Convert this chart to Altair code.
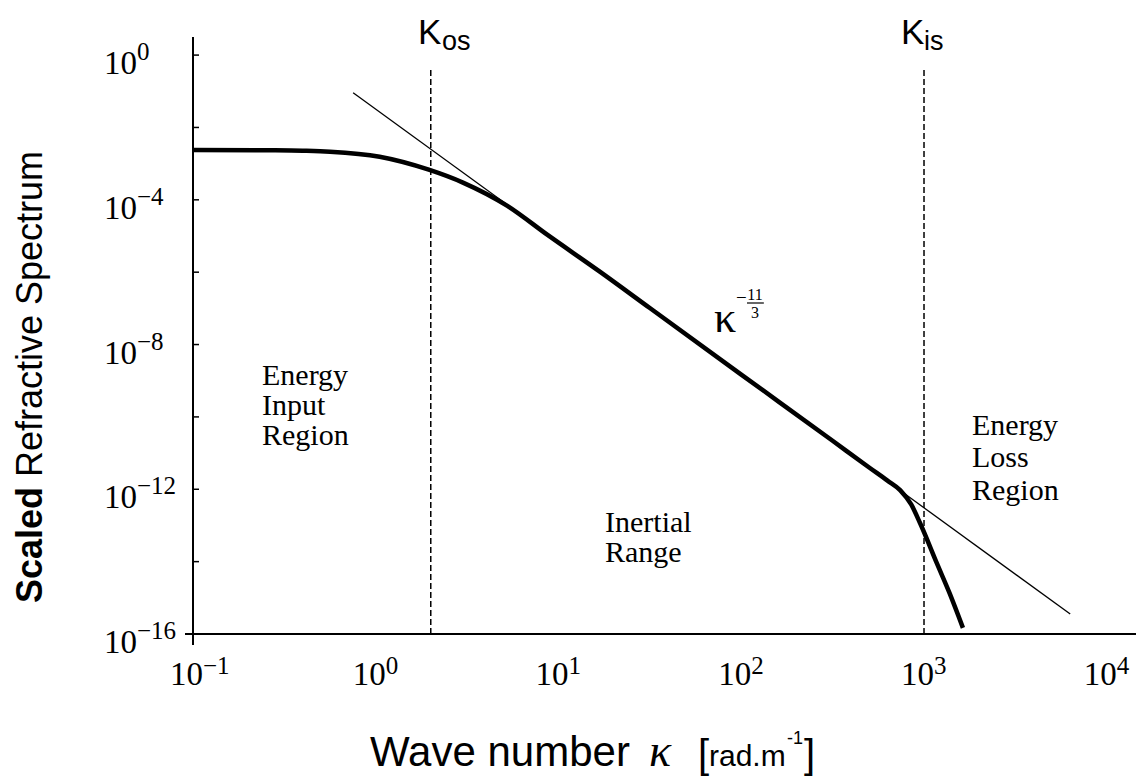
import altair as alt
import pandas as pd

# ---- data ----
# thick curve: scaled refractive spectrum
kappa = [0.1, 0.251, 0.398, 0.562, 1.05, 1.95, 3.02, 5.25, 8.71, 16.9, 31.6,
         100, 316, 501, 631, 740, 851, 951, 1175, 1380, 1633]
spectrum = [2.40e-3, 2.34e-3, 2.27e-3, 2.14e-3, 1.55e-3, 6.8e-4, 2.95e-4,
            6.8e-5, 1.07e-5, 1.02e-6, 1.02e-7, 1.48e-9, 2.19e-11, 4.0e-12, 1.74e-12,
            9.5e-13, 3.8e-13, 1.17e-13, 9.1e-15, 1.35e-15, 1.48e-16]
# thin kappa^(-11/3) reference line (end points)
kappa_pl = [0.752, 6310]
spectrum_pl = [0.0912, 3.55e-16]
# vertical markers K_os and K_is
kappa_mark = [2, 1000]
mark_low = [1e-16, 1e-16]
mark_high = [0.447, 0.447]
# ticks
x_ticks = [0.1, 1, 10, 100, 1000, 10000]
x_exp = ["\u22121", "0", "1", "2", "3", "4"]
y_ticks = [1, 1e-4, 1e-8, 1e-12, 1e-16]
y_exp = ["0", "\u22124", "\u22128", "\u221212", "\u221216"]
y_minor = [1, 1e-2, 1e-4, 1e-6, 1e-8, 1e-10, 1e-12, 1e-14, 1e-16]

W, H = 943, 597
SERIF = "Liberation Serif"
SANS = "Liberation Sans"

xs = alt.Scale(type="log", domain=[0.1, 14454], nice=False)
ys = alt.Scale(type="log", domain=[1e-16, 3.162], nice=False)

curve = pd.DataFrame({"k": kappa, "s": spectrum})
pl = pd.DataFrame({"k": kappa_pl, "s": spectrum_pl})
marks = pd.DataFrame({"k": kappa_mark, "lo": mark_low, "hi": mark_high})
xt = pd.DataFrame({"v": x_ticks, "e": x_exp})
yt = pd.DataFrame({"v": y_ticks, "e": y_exp})
ym = pd.DataFrame({"v": y_minor})
one = pd.DataFrame({"a": [1]})

X = lambda: alt.X("k:Q", scale=xs, axis=None)
Y = lambda f="s": alt.Y(f"{f}:Q", scale=ys, axis=None)

thick = alt.Chart(curve).mark_line(color="black", strokeWidth=4.5, interpolate="monotone").encode(
    x=X(), y=Y(), order="k:Q")
thin = alt.Chart(pl).mark_line(color="black", strokeWidth=1.3).encode(x=X(), y=Y())
dashed = alt.Chart(marks).mark_rule(color="black", strokeWidth=1.5, strokeDash=[6, 3]).encode(
    x=X(), y=Y("lo"), y2="hi:Q")

yticks = alt.Chart(ym).mark_rule(color="black", strokeWidth=1.5).encode(
    y=alt.Y("v:Q", scale=ys, axis=None), x=alt.value(0), x2=alt.value(6))
yaxis = alt.Chart(one).mark_rule(color="black", strokeWidth=2).encode(
    x=alt.value(0), y=alt.value(0), y2=alt.value(608))
xaxis = alt.Chart(one).mark_rule(color="black", strokeWidth=2).encode(
    y=alt.value(H), x=alt.value(-8), x2=alt.value(W))

xlab10 = alt.Chart(xt).mark_text(text="10", font=SERIF, fontSize=33, align="right",
                                 baseline="alphabetic", dx=10, color="black").encode(
    x=alt.X("v:Q", scale=xs, axis=None), y=alt.value(H + 51))
xlabe = alt.Chart(xt).mark_text(font=SERIF, fontSize=25, align="left",
                                baseline="alphabetic", dx=10, color="black").encode(
    x=alt.X("v:Q", scale=xs, axis=None), y=alt.value(H + 40), text="e:N")
ylab10 = alt.Chart(yt).mark_text(text="10", font=SERIF, fontSize=33, align="right",
                                 baseline="alphabetic", dy=19, color="black").encode(
    y=alt.Y("v:Q", scale=ys, axis=None), x=alt.value(-56))
ylabe = alt.Chart(yt).mark_text(font=SERIF, fontSize=25, align="left",
                                baseline="alphabetic", dy=5, color="black").encode(
    y=alt.Y("v:Q", scale=ys, axis=None), x=alt.value(-56), text="e:N")


def txt(s, x, y, size, font=SERIF, align="left", baseline="alphabetic", **kw):
    return alt.Chart(one).mark_text(text=s, font=font, fontSize=size, align=align,
                                    baseline=baseline, color="black", **kw).encode(
        x=alt.value(x), y=alt.value(y))


texts = [
    txt("Energy", 69, 348, 30), txt("Input", 69, 378, 30), txt("Region", 69, 408, 30),
    txt("Inertial", 412, 495, 30), txt("Range", 412, 525, 30),
    txt("Energy", 779, 398, 30), txt("Loss", 779, 430, 30), txt("Region", 779, 463, 30),
    txt("\u03ba", 521, 295, 44),
    txt("\u2212", 543, 261, 19, baseline="middle"),
    txt("11", 562, 263, 16, align="center"),
    txt("3", 562, 281, 16, align="center"),
    txt("K", 225, 7, 35, font=SANS), txt("os", 249, 13, 27, font=SANS),
    txt("K", 708, 7, 35, font=SANS), txt("is", 731, 13, 27, font=SANS),
    txt("Scaled", -151, 566, 36, font=SANS, angle=270, fontWeight="bold"),
    txt("Refractive Spectrum", -151, 440, 36, font=SANS, angle=270),
    txt("Wave number", 177, 729, 42, font=SANS),
    txt("\u03ba", 456, 729, 46, font=SERIF, fontStyle="italic"),
    txt("[", 505, 731, 40, font=SANS),
    txt("rad.m", 516, 729, 30, font=SANS),
    txt("-1", 594, 707, 18, font=SANS),
    txt("]", 611, 731, 40, font=SANS),
]
frac_bar = alt.Chart(one).mark_rule(color="black", strokeWidth=1.2).encode(
    x=alt.value(554), x2=alt.value(571), y=alt.value(266))

chart = alt.layer(
    dashed, thin, thick, yticks, yaxis, xaxis, xlab10, xlabe, ylab10, ylabe, frac_bar, *texts
).properties(
    width=W, height=H,
    autosize=alt.AutoSizeParams(type="none"),
    padding={"left": 193, "top": 37, "right": 10, "bottom": 146},
    background="white",
).configure_view(stroke=None)

chart.save("out.html", embed_options={"renderer": "svg", "actions": False})
